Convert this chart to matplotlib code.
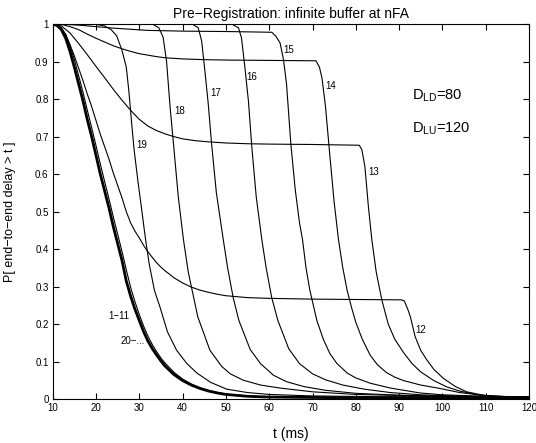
# P[end-to-end delay > t] for pre-registration, infinite buffer at nFA
import matplotlib
matplotlib.use('Agg')
import matplotlib.pyplot as plt

plt.rcParams['font.family'] = ['Liberation Sans', 'DejaVu Sans']
plt.rcParams['mathtext.fontset'] = 'custom'
plt.rcParams['mathtext.rm'] = 'Liberation Sans'

# curves 1-11 (thick) and 20-...
t_base = [10, 11, 12, 13, 14, 15, 16, 17, 18, 19, 20, 21, 22, 23, 24, 25, 26, 27, 28, 29,
          30, 31, 32, 33, 34, 35, 36, 38, 40, 42, 44, 46, 48, 50, 55, 60, 70, 80, 100, 120]
y_1_11 = [1.0, 0.996, 0.985, 0.962, 0.927, 0.885, 0.84, 0.795, 0.745, 0.70, 0.65, 0.60,
          0.555, 0.51, 0.46, 0.415, 0.37, 0.315, 0.275, 0.24, 0.21, 0.18, 0.155, 0.135,
          0.118, 0.102, 0.088, 0.066, 0.05, 0.038, 0.029, 0.022, 0.017, 0.013, 0.008,
          0.006, 0.005, 0.004, 0.004, 0.004]
y_20 = [1.0, 0.998, 0.99, 0.972, 0.942, 0.905, 0.862, 0.818, 0.77, 0.724, 0.676, 0.627,
        0.58, 0.534, 0.486, 0.44, 0.394, 0.345, 0.298, 0.26, 0.226, 0.195, 0.168, 0.146,
        0.127, 0.11, 0.096, 0.072, 0.054, 0.041, 0.031, 0.024, 0.018, 0.014, 0.009,
        0.006, 0.005, 0.004, 0.004, 0.004]

# curve 12: plateau 0.265
t_12 = [10, 11, 12, 13, 14, 15, 16, 17, 18, 19, 20, 21, 22, 23, 24, 25, 26, 27, 28, 29,
        30, 31, 32, 33, 34, 35, 36, 38, 40, 42, 44, 46, 48, 50, 55, 60, 70, 80, 90.6,
        91.2, 92, 92.6, 93.7, 95, 96.4, 98, 100.2, 103, 105.6, 109.4, 113, 120]
y_12 = [1.0, 0.997, 0.989, 0.972, 0.945, 0.915, 0.882, 0.849, 0.813, 0.78, 0.743, 0.706,
        0.673, 0.64, 0.603, 0.57, 0.537, 0.5, 0.47, 0.448, 0.43, 0.41, 0.393, 0.378,
        0.364, 0.352, 0.342, 0.324, 0.31, 0.299, 0.291, 0.285, 0.28, 0.276, 0.271,
        0.269, 0.267, 0.266, 0.265, 0.262, 0.24, 0.22, 0.167, 0.13, 0.105, 0.08, 0.056,
        0.034, 0.02, 0.011, 0.008, 0.006]

# curve 13: plateau 0.678
t_13 = [10, 12, 14, 16, 18, 20, 22, 24, 26, 28, 30, 32, 34, 36, 38, 40, 43, 46, 50, 55,
        60, 70, 80.8, 81.4, 82.1, 82.9, 83.7, 84.7, 86, 87.5, 89, 91, 93, 95, 98, 101,
        104, 108, 112, 120]
y_13 = [1.0, 0.995, 0.976, 0.948, 0.918, 0.887, 0.857, 0.826, 0.797, 0.77, 0.746, 0.728,
        0.716, 0.707, 0.70, 0.694, 0.689, 0.686, 0.683, 0.681, 0.68, 0.679, 0.677, 0.665,
        0.62, 0.514, 0.425, 0.34, 0.265, 0.2, 0.16, 0.125, 0.095, 0.073, 0.05, 0.033,
        0.022, 0.012, 0.008, 0.006]

# curve 14: plateau 0.903
t_14 = [10, 12, 14, 16, 18, 20, 22, 24, 26, 28, 30, 32, 34, 36, 40, 45, 50, 60, 70.8,
        71.6, 72.2, 73, 74, 75, 76, 77, 78, 79, 80, 81.5, 83.3, 85, 87, 89, 91, 95, 99.4,
        104, 110, 115, 120]
y_14 = [1.0, 0.999, 0.993, 0.985, 0.973, 0.962, 0.952, 0.942, 0.934, 0.927, 0.921, 0.917,
        0.913, 0.91, 0.907, 0.905, 0.904, 0.903, 0.902, 0.885, 0.855, 0.78, 0.65, 0.525,
        0.425, 0.35, 0.29, 0.245, 0.205, 0.16, 0.118, 0.092, 0.072, 0.059, 0.05, 0.038,
        0.029, 0.018, 0.01, 0.007, 0.006]

# curve 15: plateau 0.98
t_15 = [10, 13, 16, 20, 24, 28, 32, 40, 50, 60.6, 61.5, 62.5, 63.3, 64, 65, 66, 67, 67.7,
        68.5, 69.4, 70, 71, 72.5, 74, 75.6, 78, 80, 83.3, 88, 94.8, 100, 110, 120]
y_15 = [1.0, 0.999, 0.997, 0.993, 0.989, 0.986, 0.983, 0.981, 0.98, 0.978, 0.968, 0.95,
        0.905, 0.84, 0.68, 0.56, 0.47, 0.425, 0.35, 0.29, 0.26, 0.21, 0.16, 0.122,
        0.096, 0.07, 0.057, 0.043, 0.03, 0.017, 0.012, 0.008, 0.006]

# curve 16
t_16 = [10, 51.3, 52.9, 53.6, 54.4, 55.2, 56, 57, 58.3, 59.3, 60.6, 62, 64.5, 67, 70, 73,
        77, 82, 88, 95, 105, 120]
y_16 = [1.0, 1.0, 0.99, 0.963, 0.883, 0.795, 0.67, 0.54, 0.425, 0.35, 0.27, 0.21, 0.135,
        0.095, 0.068, 0.052, 0.038, 0.027, 0.018, 0.012, 0.008, 0.006]

# curve 17
t_17 = [10, 42.2, 43.6, 44.4, 45.1, 45.9, 46.7, 47.8, 49.4, 50.4, 51.7, 53, 55.6, 58, 61,
        64, 68, 73, 80, 90, 100, 120]
y_17 = [1.0, 1.0, 0.99, 0.955, 0.88, 0.79, 0.68, 0.55, 0.425, 0.35, 0.27, 0.21, 0.133,
        0.095, 0.064, 0.047, 0.034, 0.024, 0.016, 0.011, 0.008, 0.006]

# curve 18
t_18 = [10, 33, 34.5, 35.5, 36.3, 37.1, 37.9, 39, 40.2, 41.3, 42.1, 43.5, 46.3, 49, 51,
        54, 58, 62.5, 70, 80, 95, 120]
y_18 = [1.0, 1.0, 0.99, 0.965, 0.9, 0.78, 0.68, 0.54, 0.425, 0.34, 0.296, 0.22, 0.131,
        0.088, 0.068, 0.051, 0.038, 0.03, 0.02, 0.013, 0.009, 0.006]

# curve 19
t_19 = [10, 20, 22, 23.5, 24.8, 26, 27, 27.6, 28.2, 28.8, 29.7, 30.5, 31.4, 32.3, 33.5,
        34.8, 36.5, 38.6, 41, 43.3, 46.5, 50.2, 55, 60, 70, 85, 120]
y_19 = [1.0, 0.999, 0.995, 0.985, 0.968, 0.93, 0.885, 0.82, 0.74, 0.665, 0.58, 0.51, 0.43,
        0.36, 0.29, 0.245, 0.18, 0.131, 0.095, 0.07, 0.045, 0.027, 0.018, 0.013, 0.009,
        0.007, 0.006]

thin_curves = [(t_base, y_20), (t_12, y_12), (t_13, y_13), (t_14, y_14), (t_15, y_15),
               (t_16, y_16), (t_17, y_17), (t_18, y_18), (t_19, y_19)]

# curve labels
label_text = ['15', '16', '17', '18', '19', '14', '13', '12', '1\u221211', '20\u2212...']
label_t = [63.3, 54.8, 46.5, 38.2, 29.4, 72.9, 82.9, 93.7, 22.8, 25.7]
label_y = [0.931, 0.86, 0.815, 0.768, 0.678, 0.836, 0.605, 0.185, 0.222, 0.155]

fig = plt.figure(figsize=(5.36, 4.43), dpi=100)
ax = fig.add_axes([0.0983, 0.0986, 0.8887, 0.8472])

for tt, yy in thin_curves:
    ax.plot(tt, yy, color='black', linewidth=0.8)
ax.plot(t_base, y_1_11, color='black', linewidth=2.0)

for s, tx, ty in zip(label_text, label_t, label_y):
    ax.text(tx, ty, s, fontsize=7, ha='left', va='center')

ax.text(92.9, 0.81, r'$\mathrm{D_{LD}}$=80', fontsize=10.5, ha='left', va='center')
ax.text(92.9, 0.72, r'$\mathrm{D_{LU}}$=120', fontsize=10.5, ha='left', va='center')

ax.set_xlim(10, 120)
ax.set_ylim(0, 1)
ax.set_xticks(range(10, 121, 10))
ax.set_yticks([0, 0.1, 0.2, 0.3, 0.4, 0.5, 0.6, 0.7, 0.8, 0.9, 1])
ax.set_yticklabels(['0', '0.1', '0.2', '0.3', '0.4', '0.5', '0.6', '0.7', '0.8', '0.9', '1'])
ax.tick_params(direction='in', top=True, right=True, length=4, labelsize=7)
ax.tick_params(axis='x', pad=3)
ax.tick_params(axis='y', pad=3)

ax.set_title('Pre\u2212Registration: infinite buffer at nFA', fontsize=10, pad=4)
ax.set_xlabel('t (ms)', fontsize=10, labelpad=10)
ax.set_ylabel('P[ end\u2212to\u2212end delay > t ]', fontsize=9, labelpad=14)

fig.savefig('out.png', dpi=100)
